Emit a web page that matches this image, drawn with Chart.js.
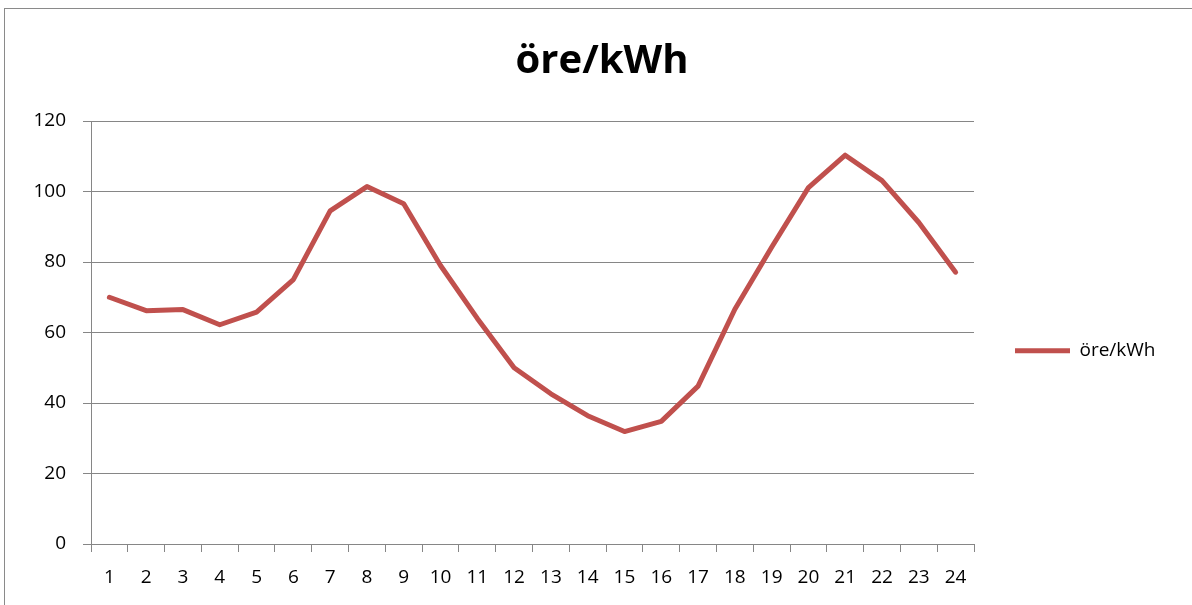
<!DOCTYPE html>
<html>
<head>
<meta charset="utf-8">
<script src="https://cdn.jsdelivr.net/npm/chart.js@4.4.1/dist/chart.umd.min.js"></script>
<style>
  html, body { margin: 0; padding: 0; background: #fff; }
  #wrap { position: relative; width: 1192px; height: 605px; overflow: hidden; }
  #frame { position: absolute; left: 4px; top: 8px; width: 1300px; height: 700px; border: 1px solid #8a8a8a; pointer-events: none; }
  canvas { position: absolute; left: 0; top: 0; }
</style>
</head>
<body>
<div id="wrap">
  <canvas id="c" width="1192" height="605"></canvas>
  <div id="frame"></div>
</div>
<script>
const titleText = "öre/kWh";
const seriesName = "öre/kWh";
const categories = ["1","2","3","4","5","6","7","8","9","10","11","12","13","14","15","16","17","18","19","20","21","22","23","24"];
const values = [70, 66.2, 66.5, 62.2, 65.8, 75, 94.5, 101.4, 96.5, 79, 64, 50, 42.6, 36.4, 31.9, 34.8, 44.8, 66.6, 84.2, 101.1, 110.3, 103.1, 91.2, 77.1];
const yMin = 0, yMax = 120, yStep = 20;

const axisGray = "#868686";
const lineRed = "#C0504D";
const baseFont = "'Open Sans', 'Liberation Sans', sans-serif";
const legendWidth = 218;

// keep the right-hand legend column at a fixed width (like the Excel layout)
const legendWidthPlugin = {
  id: "legendWidth",
  beforeLayout(chart) {
    const lg = chart.legend;
    if (lg && !lg._fixedWidth) {
      const orig = lg.fit;
      lg.fit = function () { orig.call(this); this.width = legendWidth; };
      lg._fixedWidth = true;
    }
  }
};

new Chart(document.getElementById("c"), {
  type: "line",
  data: {
    labels: categories,
    datasets: [{
      label: seriesName,
      data: values,
      borderColor: lineRed,
      backgroundColor: lineRed,
      borderWidth: 5,
      pointRadius: 0,
      pointHoverRadius: 0,
      tension: 0,
      borderJoinStyle: "round",
      borderCapStyle: "round"
    }]
  },
  plugins: [legendWidthPlugin],
  options: {
    responsive: false,
    animation: false,
    devicePixelRatio: 1,
    layout: { padding: { left: 12, right: 0, top: 0, bottom: 0 } },
    plugins: {
      title: {
        display: true,
        text: titleText,
        color: "#000",
        font: { family: baseFont, size: 40, weight: "bold" },
        padding: { top: 38, bottom: 35 }
      },
      legend: {
        display: true,
        position: "right",
        title: { display: true, text: "", font: { size: 12 }, padding: { top: 40, bottom: 42 } },
        labels: {
          boxWidth: 55,
          boxHeight: 5,
          padding: 41,
          color: "#000",
          font: { family: baseFont, size: 19 },
          generateLabels(chart) {
            const ds = chart.data.datasets[0];
            return [{ text: ds.label, fillStyle: ds.borderColor, strokeStyle: ds.borderColor, fontColor: "#000", lineWidth: 0, datasetIndex: 0, hidden: false }];
          }
        }
      },
      tooltip: { enabled: false }
    },
    scales: {
      x: {
        type: "category",
        offset: true,
        grid: { offset: true, drawOnChartArea: false, drawTicks: true, tickLength: 8, color: axisGray, lineWidth: 1 },
        border: { color: axisGray, width: 1 },
        ticks: { color: "#000", font: { family: baseFont, size: 19 }, padding: 14, maxRotation: 0, autoSkip: false },
        afterFit(s) { s.height = 61; }
      },
      y: {
        min: yMin, max: yMax,
        grid: { color: axisGray, lineWidth: 1, tickLength: 8 },
        border: { color: axisGray, width: 1 },
        ticks: { stepSize: yStep, color: "#000", font: { family: baseFont, size: 19 }, padding: 17 },
        afterFit(s) { s.width = 79; }
      }
    }
  }
});
</script>
</body>
</html>
